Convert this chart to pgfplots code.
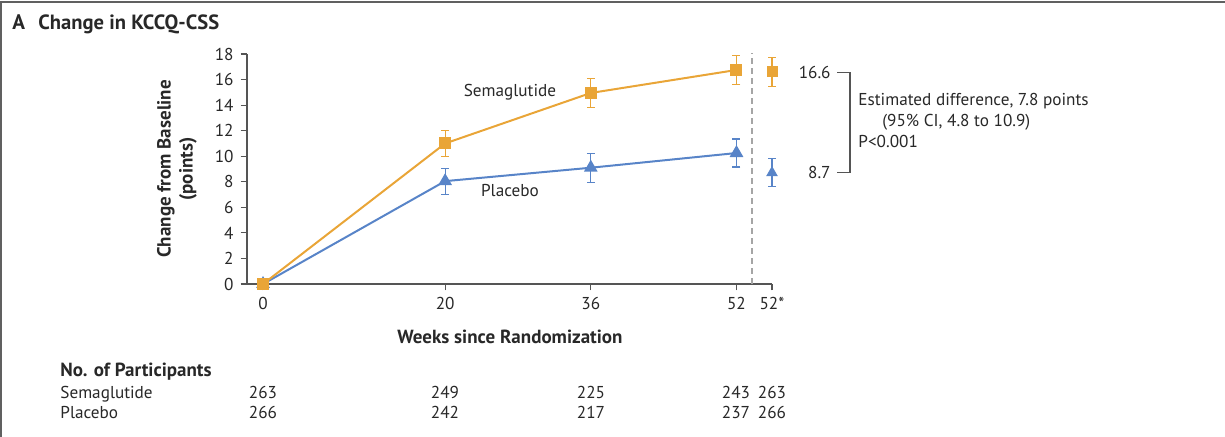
\documentclass[border=0pt]{standalone}
\usepackage{pgfplots}
\pgfplotsset{compat=1.18}
\usepackage{pgfplotstable}
\usepackage{fontspec}
\setmainfont{PT Sans}
\definecolor{sema}{RGB}{233,165,55}
\definecolor{plac}{RGB}{88,132,200}
\definecolor{axgray}{RGB}{85,85,85}
\definecolor{txt}{RGB}{40,40,40}

\pgfplotstableread{
x y e
0 0 0
20 11.0 1.03
36 14.95 1.15
52 16.75 1.13
}\semadata
\pgfplotstableread{
x y e
55.9 16.6 1.12
}\semaend
\pgfplotstableread{
x y e
0 0 0
20 8.05 1.02
36 9.1 1.13
52 10.25 1.1
}\placdata
\pgfplotstableread{
x y e
55.9 8.7 1.1
}\placend

\newcommand{\fs}{\fontsize{8.6}{10}\selectfont}
\newcommand{\fb}{\fontsize{9.5}{11}\selectfont\bfseries}

\begin{document}
\begin{tikzpicture}
\path[use as bounding box] (0,0) rectangle (612.5pt,-218.5pt);
\begin{axis}[
  at={(123.5pt,-142pt)}, anchor=south west,
  scale only axis, width=262.5pt, height=115pt,
  xmin=-1.76, xmax=55.9, ymin=0, ymax=18,
  axis lines=left, axis line style={-, axgray, line width=0.7pt},
  xtick={0,20,36,52,55.9}, xticklabels={0,20,36,52,52*},
  ytick={0,2,...,18},
  tick align=outside, major tick length=3.2pt,
  tick style={axgray, line width=0.6pt},
  tick label style={font=\fs, text=txt},
  /pgf/number format/assume math mode=true,
  clip=false,
  error bars/y dir=both, error bars/y explicit,
  error bars/error bar style={line width=0.6pt},
  error bars/error mark options={rotate=90, mark size=2pt, line width=0.6pt},
]
\draw[gray!70, dash pattern=on 3pt off 2pt, line width=0.6pt] (axis cs:53.7,0) -- (axis cs:53.7,18.1);
\addplot[plac, line width=1pt, mark=triangle*, mark size=3pt, mark options={solid},
  error bars/error bar style={plac}] table[x=x,y=y,y error=e] {\placdata};
\addplot[plac, only marks, mark=triangle*, mark size=3pt,
  error bars/error bar style={plac}] table[x=x,y=y,y error=e] {\placend};
\addplot[sema, line width=1pt, mark=square*, mark size=2.5pt, mark options={solid},
  error bars/error bar style={sema}] table[x=x,y=y,y error=e] {\semadata};
\addplot[sema, only marks, mark=square*, mark size=2.5pt,
  error bars/error bar style={sema}] table[x=x,y=y,y error=e] {\semaend};
\end{axis}
\begin{scope}[x=0.5pt, y=-0.5pt, font=\fs, text=txt, inner sep=0pt]
  % frame
  \draw[gray!75!black, line width=1.2pt] (0,2) -- (1225,2);
  \draw[gray!75!black, line width=1.2pt] (1.2,2) -- (1.2,437);
  % title
  \node[anchor=base west, font=\fontsize{10.5}{12}\selectfont\bfseries] at (12,30) {A};
  \node[anchor=base west, font=\fontsize{10.3}{12}\selectfont\bfseries] at (38,30) {Change in KCCQ-CSS};
  % y label
  \node[rotate=90, align=center, font=\fb] at (177,169) {Change from Baseline\\(points)};
  % x label
  \node[font=\fb] at (510,337) {Weeks since Randomization};
  % series labels
  \node at (510,92) {Semaglutide};
  \node at (510,191) {Placebo};
  % right annotation
  \node[anchor=east] at (831,72.5) {16.6};
  \node[anchor=east] at (831,172.7) {8.7};
  \draw[axgray, line width=0.6pt] (837,72.5) -- (850,72.5) -- (850,172.7) -- (837,172.7);
  \node[anchor=base west] at (858,106) {Estimated difference, 7.8 points};
  \node[anchor=base west] at (882,127) {(95\% CI, 4.8 to 10.9)};
  \node[anchor=base west] at (858,148) {P<0.001};
  % table
  \node[anchor=base west, font=\fb] at (60,377) {No. of Participants};
  \node[anchor=base west] at (60,399) {Semaglutide};
  \node[anchor=base west] at (60,419) {Placebo};
  \foreach \xx/\a/\b in {263/263/266, 445/249/242, 591/225/217, 736/243/237, 772/263/266}{
    \node[anchor=base] at (\xx,399) {\a};
    \node[anchor=base] at (\xx,419) {\b};
  }
\end{scope}
\end{tikzpicture}
\end{document}
